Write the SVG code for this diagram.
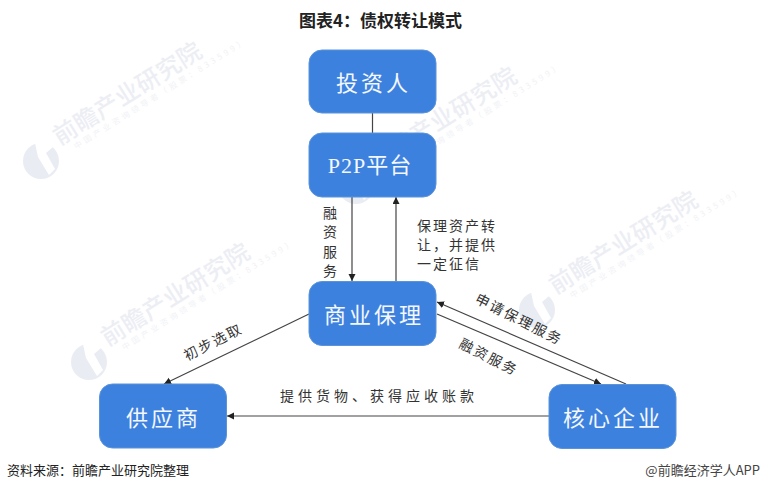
<svg xmlns="http://www.w3.org/2000/svg" xmlns:xlink="http://www.w3.org/1999/xlink" width="760" height="491" viewBox="0 0 760 491">
<style>
text{font-family:"Liberation Serif","Noto Sans CJK SC",serif}
.box{fill:#3d81df;stroke:#5b93d8;stroke-width:1}
.nt{fill:#f4f8fd;font-size:22px;text-anchor:middle;dominant-baseline:central;letter-spacing:3px;font-family:"Noto Sans CJK SC",sans-serif;font-weight:400}
.lb{fill:#333;font-size:14px;font-family:"Noto Sans CJK SC",sans-serif;letter-spacing:2px}
.ln{stroke:#444;stroke-width:1.2;fill:none}
.ar{marker-end:url(#ah)}
.wt{fill:#eceef4;font-size:24px;font-family:"Noto Sans CJK SC",sans-serif;font-weight:500}
.ws{fill:#f1f2f6;font-size:8px;font-family:"Noto Sans CJK SC",sans-serif;letter-spacing:3.2px}
</style>
<defs>
<marker id="ah" markerWidth="8" markerHeight="8" refX="7" refY="3.5" orient="auto" markerUnits="userSpaceOnUse"><path d="M0 0L7 3.5L0 7Z" fill="#222"/></marker>
<g id="wm">
<circle cx="0" cy="0" r="18" fill="#e9ecf2"/>
<path d="M-6 -18L-3 -4L8 14L14 8L5 -8L12 -14L6 -19Z" fill="#fff"/>
<g transform="rotate(-32)">
<text class="wt" x="24" y="-3" textLength="170">前瞻产业研究院</text>
<text class="ws" x="36" y="9">中国产业咨询领导者（股票：833599）</text>
</g>
</g>
</defs>
<rect width="760" height="491" fill="#fff"/>
<g id="watermarks">
<use xlink:href="#wm" x="41" y="161"/>
<use xlink:href="#wm" x="356" y="186"/>
<use xlink:href="#wm" x="89" y="362"/>
<use xlink:href="#wm" x="537" y="310"/>
</g>
<text id="title" x="380.500" y="27" text-anchor="middle" font-size="17" font-weight="700" fill="#222" style="font-family:'Noto Sans CJK SC',sans-serif">图表4：债权转让模式</text>
<g id="connectors">
<line class="ln" x1="372.500" y1="113" x2="372.500" y2="133"/>
<line class="ln ar" x1="352" y1="197" x2="352" y2="281"/>
<line class="ln ar" x1="396" y1="281" x2="396" y2="197"/>
<line class="ln ar" x1="309" y1="314" x2="164" y2="384"/>
<line class="ln ar" x1="626" y1="384" x2="437" y2="302"/>
<line class="ln ar" x1="437" y1="314" x2="601" y2="384"/>
<line class="ln ar" x1="549" y1="416" x2="227" y2="416"/>
</g>
<g id="node-investor"><rect class="box" x="309" y="50" width="127" height="63" rx="13"/><text class="nt" x="373.500" y="81">投资人</text></g>
<g id="node-p2p"><rect class="box" x="309" y="133" width="127" height="64" rx="13"/><text class="nt" x="370" y="165" style="font-family:'Liberation Serif','Noto Sans CJK SC',serif;letter-spacing:1px">P2P平台</text></g>
<g id="node-factoring"><rect class="box" x="309" y="281.500" width="127" height="64" rx="13"/><text class="nt" x="374" y="313">商业保理</text></g>
<g id="node-supplier"><rect class="box" x="99.500" y="384" width="127" height="64" rx="13"/><text class="nt" x="163.500" y="416">供应商</text></g>
<g id="node-core"><rect class="box" x="549" y="384.500" width="127" height="64" rx="13"/><text class="nt" x="613" y="416">核心企业</text></g>
<g id="labels">
<text class="lb" x="331" y="218" text-anchor="middle">融</text>
<text class="lb" x="331" y="237" text-anchor="middle">资</text>
<text class="lb" x="331" y="257" text-anchor="middle">服</text>
<text class="lb" x="331" y="276" text-anchor="middle">务</text>
<text class="lb" x="417" y="231">保理资产转</text>
<text class="lb" x="417" y="250">让，并提供</text>
<text class="lb" x="417" y="269">一定征信</text>
<text class="lb" transform="translate(474,302) rotate(27)">申请保理服务</text>
<text class="lb" transform="translate(458,347) rotate(27)">融资服务</text>
<text class="lb" transform="translate(187,361) rotate(-27)">初步选取</text>
<text class="lb" x="280" y="401" style="letter-spacing:4px">提供货物、获得应收账款</text>
</g>
<text id="source" x="7" y="475" font-size="13" fill="#222" style="font-family:'Noto Sans CJK SC',sans-serif">资料来源：前瞻产业研究院整理</text>
<text id="credit" x="760" y="475" font-size="13" fill="#444" text-anchor="end" style="font-family:'Noto Sans CJK SC',sans-serif">@前瞻经济学人APP</text>
</svg>
